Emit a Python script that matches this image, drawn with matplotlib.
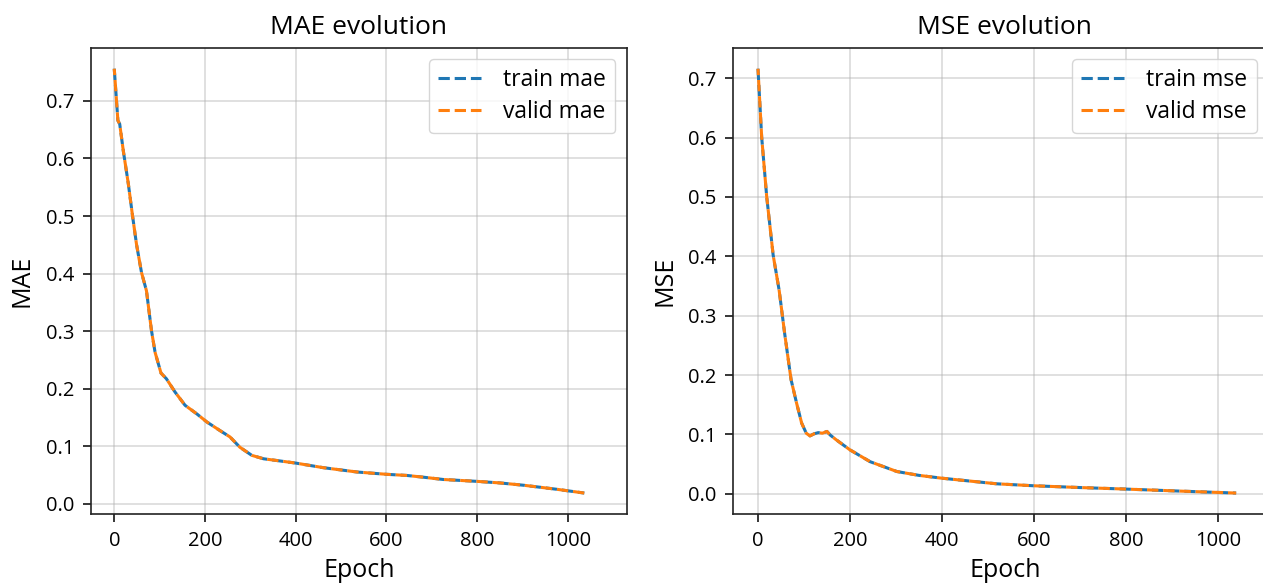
import numpy as np
import matplotlib.pyplot as plt

plt.rcParams['font.family'] = ['Open Sans', 'DejaVu Sans']

# MAE history (epoch, value)
mae_epochs = [0, 8, 12, 20, 31, 40, 49, 60, 71, 82, 90, 103, 115, 134, 156, 182, 204,
              233, 255, 277, 303, 329, 358, 400, 461, 535, 600, 645, 681, 725, 800,
              850, 902, 975, 1036]
train_mae = [0.756, 0.666, 0.660, 0.613, 0.556, 0.502, 0.451, 0.402, 0.370, 0.301, 0.263,
             0.227, 0.217, 0.194, 0.171, 0.156, 0.142, 0.127, 0.116, 0.098, 0.084, 0.078,
             0.075, 0.0705, 0.0625, 0.055, 0.051, 0.049, 0.046, 0.042, 0.0387, 0.036,
             0.032, 0.025, 0.0184]
valid_mae = list(train_mae)

# MSE history (epoch, value)
mse_epochs = [0, 8, 19, 33, 46, 58, 72, 84, 95, 105, 113, 122, 131, 140, 150, 157, 170,
              200, 244, 302, 350, 398, 519, 599, 700, 800, 918, 1040]
train_mse = [0.716, 0.601, 0.500, 0.402, 0.343, 0.270, 0.192, 0.1525, 0.119, 0.102,
             0.0975, 0.101, 0.103, 0.102, 0.105, 0.099, 0.091, 0.074, 0.054, 0.0375,
             0.031, 0.0264, 0.0168, 0.0135, 0.0105, 0.0079, 0.0045, 0.0012]
valid_mse = list(train_mse)

fig = plt.figure(figsize=(12.63, 5.86), dpi=100)
ax1 = fig.add_axes([0.0720, 0.1224, 0.4244, 0.7965])
# right panel runs past the figure edge
ax2 = fig.add_axes([0.5806, 0.1224, 0.4300, 0.7965])

lw = 2.2

def draw(ax, ep, tr, va, name, title, xlim, leg_x=1.0):
    ax.plot(ep, tr, color='#1f77b4', lw=lw, linestyle=(0, (3.7, 1.6)), label='train ' + name)
    ax.plot(ep, va, color='#ff7f0e', lw=lw, linestyle=(1.6, (3.7, 1.6)), label='valid ' + name)
    ax.set_xlim(*xlim)
    ax.set_xticks([0, 200, 400, 600, 800, 1000])
    ax.set_title(title, fontsize=19, pad=10)
    ax.set_xlabel('Epoch', fontsize=18, labelpad=5)
    ax.set_ylabel(name.upper(), fontsize=18, labelpad=8)
    ax.tick_params(labelsize=14.5, length=6, width=1.1, pad=6)
    ax.grid(True, color='#b0b0b0', alpha=0.5, lw=1.1)
    for s in ax.spines.values():
        s.set_linewidth(1.2)
        s.set_color('#222222')
    leg = ax.legend(loc='upper right', bbox_to_anchor=(leg_x, 1.0), fontsize=16.5,
                    handlelength=1.85, borderaxespad=0.5, labelspacing=0.35,
                    handletextpad=1.0)
    for h in leg.get_lines():
        h.set_linestyle((0, (3.7, 1.6)))

draw(ax1, mae_epochs, train_mae, valid_mae, 'mae', 'MAE evolution', (-51.4, 1130))
draw(ax2, mse_epochs, train_mse, valid_mse, 'mse', 'MSE evolution', (-53.7, 1127.5), leg_x=0.985)

fig.savefig('out.png', dpi=100)
